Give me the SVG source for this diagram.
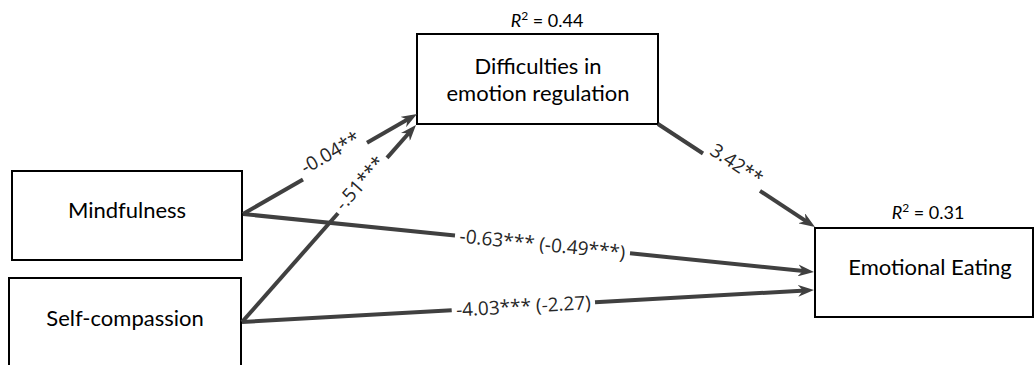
<svg xmlns="http://www.w3.org/2000/svg" width="1035" height="365" viewBox="0 0 1035 365">
  <defs>
    <style>
      .box { fill: #ffffff; stroke: #000000; stroke-width: 2; }
      .node-label { font-family: Lato, "Liberation Sans", sans-serif; font-size: 22px; fill: #000000; text-anchor: middle; }
      .r2 { font-family: Lato, "Liberation Sans", sans-serif; font-size: 18px; fill: #000000; text-anchor: middle; }
      .edge { fill: none; stroke: #404040; stroke-width: 4; }
      .edge-label { font-family: "Open Sans", "DejaVu Sans", sans-serif; font-size: 19px; fill: #262626; text-anchor: middle; }
    </style>
    <marker id="arrow" viewBox="0 0 16 12" refX="8" refY="6" markerWidth="16" markerHeight="12" markerUnits="userSpaceOnUse" orient="auto">
      <path d="M0,0 L16,6 L0,12 L5,6 Z" fill="#404040"/>
    </marker>
  </defs>

  <rect width="1035" height="365" fill="#ffffff"/>

  <!-- nodes -->
  <g id="node-difficulties">
    <rect class="box" x="417" y="34" width="241" height="90"/>
    <text class="node-label" x="538" y="74">Difficulties in</text>
    <text class="node-label" x="538" y="101">emotion regulation</text>
    <text class="r2" x="547" y="27"><tspan font-style="italic">R</tspan><tspan font-size="12" dy="-7">2</tspan><tspan dy="7"> = 0.44</tspan></text>
  </g>

  <g id="node-mindfulness">
    <rect class="box" x="12" y="171" width="230" height="89"/>
    <text class="node-label" x="127" y="218">Mindfulness</text>
  </g>

  <g id="node-selfcompassion">
    <rect class="box" x="9" y="278" width="232" height="95"/>
    <text class="node-label" x="125" y="326">Self-compassion</text>
  </g>

  <g id="node-emotional-eating">
    <rect class="box" x="815" y="228" width="218" height="89"/>
    <text class="node-label" x="930" y="275">Emotional Eating</text>
    <text class="r2" x="928" y="219"><tspan font-style="italic">R</tspan><tspan font-size="12" dy="-7">2</tspan><tspan dy="7"> = 0.31</tspan></text>
  </g>

  <!-- connectors -->
  <g id="connectors">
    <!-- Mindfulness -> Difficulties -->
    <path class="edge" d="M243,214 L303,179.5"/>
    <path class="edge" d="M367,142.7 L410.1,118" marker-end="url(#arrow)"/>
    <text class="edge-label" transform="translate(335,161) rotate(-29.9)" x="0" y="-3">-0.04**</text>

    <!-- Self-compassion -> Difficulties -->
    <path class="edge" d="M242,322 L338,213.3"/>
    <path class="edge" d="M387,157.9 L410.7,131" marker-end="url(#arrow)"/>
    <text class="edge-label" transform="translate(362.5,185.6) rotate(-48.5)" x="0" y="3">-.51***</text>

    <!-- Difficulties -> Emotional Eating -->
    <path class="edge" d="M658,124 L703,153.5"/>
    <path class="edge" d="M760,190.9 L808.3,222.6" marker-end="url(#arrow)"/>
    <text class="edge-label" transform="translate(731.5,172.2) rotate(33.3)" x="0" y="-3">3.42**</text>

    <!-- Mindfulness -> Emotional Eating -->
    <path class="edge" d="M243,214 L455,235.5"/>
    <path class="edge" d="M630,253.3 L806,271.2" marker-end="url(#arrow)"/>
    <text class="edge-label" transform="translate(542.5,244.4) rotate(5.8)" x="0" y="6.5">-0.63*** (-0.49***)</text>

    <!-- Self-compassion -> Emotional Eating -->
    <path class="edge" d="M242,322 L451.7,310.3"/>
    <path class="edge" d="M595,302.3 L806,290.4" marker-end="url(#arrow)"/>
    <text class="edge-label" transform="translate(523.4,306.3) rotate(-3.2)" x="0" y="6.5">-4.03*** (-2.27)</text>
  </g>
</svg>
